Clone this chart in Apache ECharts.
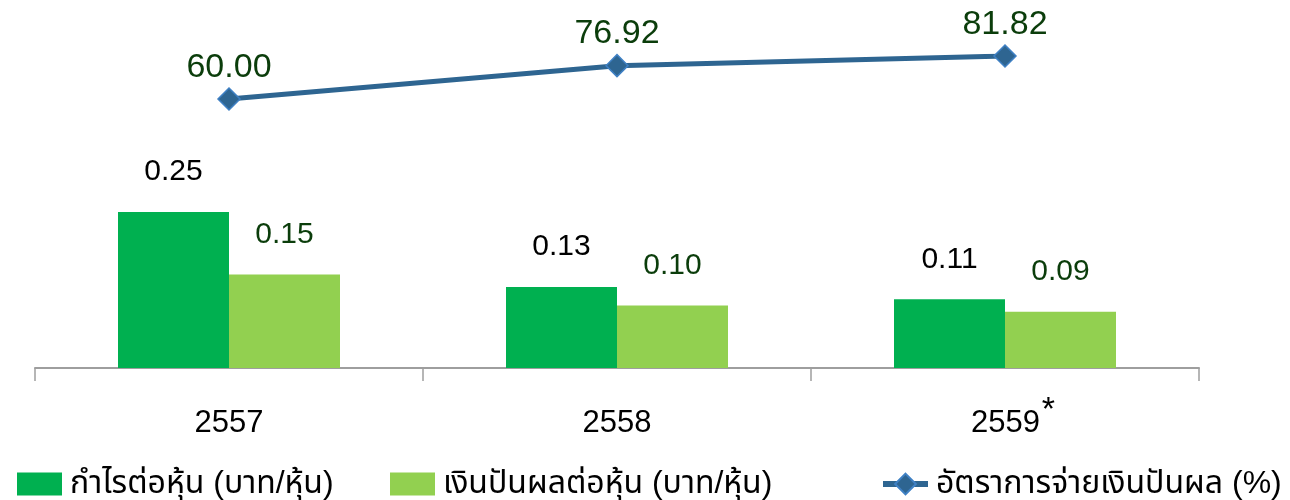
<!DOCTYPE html>
<html>
<head>
<meta charset="utf-8">
<script src="https://cdn.jsdelivr.net/npm/echarts@6/dist/echarts.min.js"></script>
<style>html,body{margin:0;padding:0;background:#fff}#c{width:1290px;height:500px}</style>
</head>
<body>
<div id="c"></div>
<script>
const categories = ['2557', '2558', '2559*'];
const epsName = 'กำไรต่อหุ้น (บาท/หุ้น)';
const dpsName = 'เงินปันผลต่อหุ้น (บาท/หุ้น)';
const payoutName = 'อัตราการจ่ายเงินปันผล (%)';
const eps = [0.25, 0.13, 0.11];
const dps = [0.15, 0.10, 0.09];
const payout = [60.00, 76.92, 81.82];

const FONT = 'Arial, "Liberation Sans", "Noto Sans Thai", Tahoma, "Noto Sans", "DejaVu Sans", sans-serif';
const chart = echarts.init(document.getElementById('c'));
const legendText = { fontSize: 32, color: '#000', fontFamily: FONT, padding: [0, 0, 0, 3] };
chart.setOption({
  animation: false,
  textStyle: { fontFamily: FONT },
  grid: { left: 35, right: 91, top: 56, bottom: 132 },
  legend: [
    { data: [{ name: epsName, icon: 'rect' }], left: 12, top: 463, itemWidth: 45, itemHeight: 23, textStyle: legendText },
    { data: [{ name: dpsName, icon: 'rect' }], left: 385, top: 463, itemWidth: 45, itemHeight: 23, textStyle: legendText },
    { data: [{ name: payoutName }], left: 875, top: 463, itemWidth: 45, itemHeight: 26,
      lineStyle: { width: 6 }, textStyle: legendText }
  ],
  xAxis: {
    type: 'category',
    data: categories,
    axisLine: { lineStyle: { color: '#9e9e9e', width: 2 } },
    axisTick: { show: true, length: 13, lineStyle: { color: '#9e9e9e', width: 1.5 } },
    axisLabel: {
      margin: 26,
      formatter: function (v) {
        if (v.endsWith('*')) return '{p|' + v.slice(0, -1) + '}{s|*}';
        return '{n|' + v + '}';
      },
      rich: {
        n: { fontSize: 31, color: '#000', fontFamily: FONT, padding: [14, 0, 0, 0] },
        p: { fontSize: 31, color: '#000', fontFamily: FONT, padding: [14, 0, 0, 16] },
        s: { fontSize: 34, color: '#000', fontFamily: FONT, verticalAlign: 'top', padding: [0, 0, 0, 2] }
      }
    }
  },
  yAxis: [
    { type: 'value', min: 0, max: 0.5, show: false, splitLine: { show: false } },
    { type: 'value', min: -76.6, max: 81.82, show: false, splitLine: { show: false } }
  ],
  series: [
    {
      name: epsName, type: 'bar', data: eps, yAxisIndex: 0,
      barWidth: 111, barGap: '0%',
      itemStyle: { color: '#00B050' },
      label: { show: true, position: 'top', distance: 25, fontSize: 30, color: '#000',
        formatter: p => p.value.toFixed(2) }
    },
    {
      name: dpsName, type: 'bar', data: dps, yAxisIndex: 0,
      barWidth: 111, barGap: '0%',
      itemStyle: { color: '#92D050' },
      label: { show: true, position: 'top', distance: 25, fontSize: 30, color: '#0b3d0b',
        formatter: p => p.value.toFixed(2) }
    },
    {
      name: payoutName, type: 'line', data: payout, yAxisIndex: 1,
      symbol: 'diamond', symbolSize: 22,
      lineStyle: { color: '#2E6591', width: 5 },
      itemStyle: { color: '#2E6591', borderColor: '#3F80C4', borderWidth: 1.5 },
      label: { show: true, position: 'top', distance: 3, fontSize: 34, color: '#0b3d0b',
        formatter: p => p.value.toFixed(2) }
    }
  ]
});
</script>
</body>
</html>
